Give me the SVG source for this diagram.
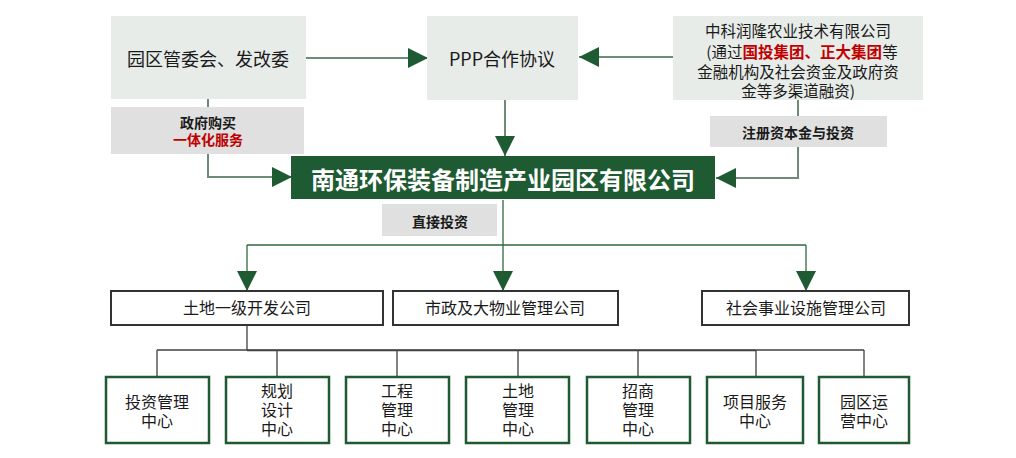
<svg xmlns="http://www.w3.org/2000/svg" width="1016" height="458" viewBox="0 0 1016 458">
<defs>
<style>
.t{font-family:"Noto Sans CJK SC","Microsoft YaHei",sans-serif;fill:#1a1a1a;text-anchor:middle;dominant-baseline:central}
.top{fill:#e8ece9}
.lab{fill:#e0e0e0}
.lb{font-size:14px;font-weight:bold}
.red{fill:#c00000;font-weight:bold}
.co{fill:#fff;stroke:#333;stroke-width:2}
.ce{fill:#fff;stroke:#1f5a33;stroke-width:2.5}
.c1{fill:none;stroke:#6e8b77;stroke-width:2}
.c2{fill:none;stroke:#2d6a40;stroke-width:1.3}
.c3{fill:none;stroke:#404040;stroke-width:1.3}
</style>
<marker id="ah" markerUnits="userSpaceOnUse" markerWidth="20" markerHeight="20" refX="20" refY="10" orient="auto" viewBox="0 0 20 20">
<path d="M0,0 L20,10 L0,20 z" fill="#1e5a32"/>
</marker>
</defs>
<rect width="1016" height="458" fill="#fff"/>
<g id="connectors">
<path class="c1" d="M306,58 H428" marker-end="url(#ah)"/>
<path class="c1" d="M673,57 H579" marker-end="url(#ah)"/>
<path class="c1" d="M505,100 V156" marker-end="url(#ah)"/>
<path class="c1" d="M208,99 V107"/>
<path class="c1" d="M208,154 V177 H292" marker-end="url(#ah)"/>
<path class="c1" d="M798,100 V116"/>
<path class="c1" d="M798,147 V178 H716" marker-end="url(#ah)"/>
<path class="c2" d="M503,200 V245"/>
<path class="c2" d="M247,245 H806"/>
<path class="c2" d="M247,245 V291" marker-end="url(#ah)"/>
<path class="c2" d="M503,245 V291" marker-end="url(#ah)"/>
<path class="c2" d="M806,245 V291" marker-end="url(#ah)"/>
<path class="c3" d="M247,325 V350"/>
<path class="c3" d="M157,350 H864"/>
<path class="c3" d="M247,350.5 H756" stroke-width="2"/>
<path class="c3" d="M157,350 V377 M277,350 V377 M397,350 V377 M518,350 V377 M638,350 V377 M756,350 V377 M864,350 V377"/>
</g>
<g id="n-committee">
<rect class="top" x="111" y="16" width="195" height="83"/>
<text class="t" x="208" y="58" font-size="18">园区管委会、发改委</text>
</g>
<g id="n-ppp">
<rect class="top" x="427" y="16" width="151" height="84"/>
<text class="t" x="502" y="58" font-size="18">PPP合作协议</text>
</g>
<g id="n-zhongke">
<rect class="top" x="673" y="16" width="250" height="84"/>
<text class="t" font-size="15.5"><tspan x="798" y="30">中科润隆农业技术有限公司</tspan><tspan x="802" y="51">(通过<tspan class="red">国投集团、正大集团</tspan>等</tspan><tspan x="798" y="71">金融机构及社会资金及政府资</tspan><tspan x="798" y="90">金等多渠道融资)</tspan></text>
</g>
<g id="l-gov">
<rect class="lab" x="111" y="107" width="193" height="47"/>
<text class="t lb"><tspan x="208" y="122">政府购买</tspan><tspan class="red" x="208" y="139">一体化服务</tspan></text>
</g>
<g id="l-capital">
<rect class="lab" x="710" y="116" width="177" height="31"/>
<text class="t lb" x="798" y="132">注册资本金与投资</text>
</g>
<g id="n-main">
<rect x="291" y="156" width="424" height="43" fill="#1e5a32"/>
<text class="t" x="503" y="178" font-size="24" font-weight="bold" style="fill:#fff">南通环保装备制造产业园区有限公司</text>
</g>
<g id="l-direct">
<rect class="lab" x="382" y="204" width="115" height="32"/>
<text class="t lb" x="440" y="221">直接投资</text>
</g>
<g id="n-land">
<rect class="co" x="111" y="291" width="272" height="34"/>
<text class="t" x="247" y="307" font-size="16">土地一级开发公司</text>
</g>
<g id="n-muni">
<rect class="co" x="393" y="291" width="225" height="34"/>
<text class="t" x="505" y="307" font-size="16">市政及大物业管理公司</text>
</g>
<g id="n-social">
<rect class="co" x="702" y="291" width="207" height="34"/>
<text class="t" x="806" y="307" font-size="16">社会事业设施管理公司</text>
</g>
<g id="c-invest">
<rect class="ce" x="106" y="377" width="103" height="66"/>
<text class="t" font-size="16"><tspan x="157" y="401">投资管理</tspan><tspan x="157" y="420">中心</tspan></text>
</g>
<g id="c-plan">
<rect class="ce" x="226" y="377" width="103" height="66"/>
<text class="t" font-size="16"><tspan x="277" y="390">规划</tspan><tspan x="277" y="409">设计</tspan><tspan x="277" y="428">中心</tspan></text>
</g>
<g id="c-eng">
<rect class="ce" x="346" y="377" width="103" height="66"/>
<text class="t" font-size="16"><tspan x="397" y="390">工程</tspan><tspan x="397" y="409">管理</tspan><tspan x="397" y="428">中心</tspan></text>
</g>
<g id="c-land">
<rect class="ce" x="466" y="377" width="103" height="66"/>
<text class="t" font-size="16"><tspan x="518" y="390">土地</tspan><tspan x="518" y="409">管理</tspan><tspan x="518" y="428">中心</tspan></text>
</g>
<g id="c-biz">
<rect class="ce" x="587" y="377" width="103" height="66"/>
<text class="t" font-size="16"><tspan x="638" y="390">招商</tspan><tspan x="638" y="409">管理</tspan><tspan x="638" y="428">中心</tspan></text>
</g>
<g id="c-proj">
<rect class="ce" x="707" y="377" width="96" height="66"/>
<text class="t" font-size="16"><tspan x="755" y="401">项目服务</tspan><tspan x="755" y="420">中心</tspan></text>
</g>
<g id="c-ops">
<rect class="ce" x="819" y="377" width="90" height="66"/>
<text class="t" font-size="16"><tspan x="864" y="401">园区运</tspan><tspan x="864" y="420">营中心</tspan></text>
</g>
</svg>
